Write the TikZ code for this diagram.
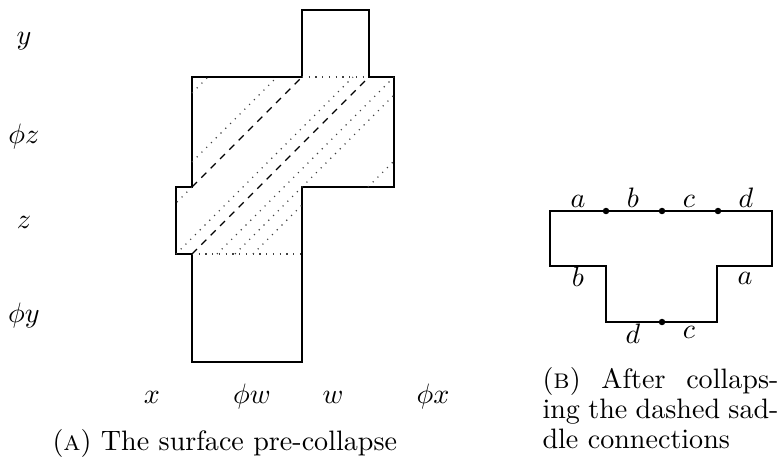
\documentclass[tikz,border=0pt]{standalone}
\begin{document}
\begin{tikzpicture}[x=0.356pt,y=-0.356pt,
  outline/.style={line width=0.4pt},
  cut/.style={dotted, line width=0.4pt, black!75},
  saddle/.style={dash pattern=on 2.5pt off 2.2pt, line width=0.45pt},
  lbl/.style={inner sep=0pt},
  pt/.style={circle, fill=black, inner sep=0pt, minimum size=2.3pt}]
\useasboundingbox (0,0) rectangle (781,464);
% ---------- left surface ----------
\draw[outline] (192,77) -- (302,77) -- (302,10) -- (369,10) -- (369,77) -- (394,77)
  -- (394,187) -- (302,187) -- (302,362) -- (192,362) -- (192,254) -- (176,254)
  -- (176,187) -- (192,187) -- cycle;
\draw[cut] (302,77) -- (369,77);
\draw[cut] (192,254) -- (302,254);
% dotted cylinder lines
\draw[cut] (192,93) -- (208,77);
\draw[cut] (192,162) -- (277,77);
\draw[cut] (192,187) -- (176,203);
\draw[cut] (176,254) -- (353,77);
\draw[cut] (217,254) -- (394,77);
\draw[cut] (235,254) -- (394,95);
\draw[cut] (253,254) -- (302,205);
\draw[cut] (368,187) -- (394,161);
% dashed saddle connections
\draw[saddle] (192,187) -- (302,77);
\draw[saddle] (192,254) -- (369,77);
% row labels
\node[lbl] (ly)  at (24,41)  {$y$};
\node[lbl] (lpz) at (24,136) {$\phi z$};
\node[lbl] (lz)  at (24,222) {$z$};
\node[lbl] (lpy) at (24,315) {$\phi y$};
% column labels
\node[lbl, anchor=base] (cx)  at (152,403) {$x$};
\node[lbl, anchor=base] (cpw) at (252,403) {$\phi w$};
\node[lbl, anchor=base] (cw)  at (333,403) {$w$};
\node[lbl, anchor=base] (cpx) at (433,403) {$\phi x$};
% caption A
\node[lbl, anchor=base west] (capA) at (52,450) {(\textsc{a}) The surface pre-collapse};
% ---------- right figure ----------
\draw[outline] (550,211) -- (772,211) -- (772,266) -- (717,266) -- (717,322)
  -- (606,322) -- (606,266) -- (550,266) -- cycle;
\node[pt] (p1) at (606,211) {};
\node[pt] (p2) at (662,211) {};
\node[pt] (p3) at (718,211) {};
\node[pt] (p4) at (662,322) {};
\node[lbl, anchor=base] (ta) at (578,207) {$a$};
\node[lbl, anchor=base] (tb) at (633,207) {$b$};
\node[lbl, anchor=base] (tc) at (689,207) {$c$};
\node[lbl, anchor=base] (td) at (746,207) {$d$};
\node[lbl] (lb) at (578,277) {$b$};
\node[lbl] (ra) at (745,278) {$a$};
\node[lbl] (bd) at (633,334) {$d$};
\node[lbl] (bc) at (689,332) {$c$};
% caption B
\node[lbl, anchor=base west] (capB1) at (542,388) {\makebox[84pt][s]{(\textsc{b}) After collaps-}};
\node[lbl, anchor=base west] (capB2) at (542,418) {\makebox[84pt][s]{ing the dashed sad-}};
\node[lbl, anchor=base west] (capB3) at (542,448) {dle connections};
\end{tikzpicture}
\end{document}
